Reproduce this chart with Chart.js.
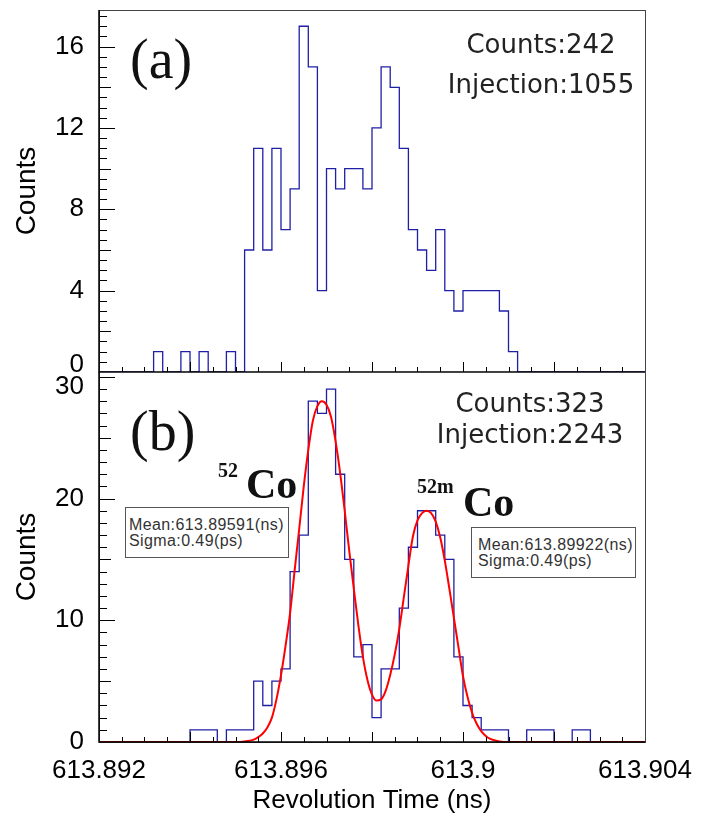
<!DOCTYPE html>
<html>
<head>
<meta charset="utf-8">
<title>Revolution time spectra</title>
<script src="https://cdn.jsdelivr.net/npm/chart.js@4.4.1/dist/chart.umd.min.js"></script>
<style>
  body { margin: 0; background: #fff; }
  #wrap { position: relative; width: 711px; height: 816px; overflow: hidden; }
  canvas { position: absolute; left: 0; }
  #cA { top: 0; }
  #cB { top: 362px; }
  .lbl { position: absolute; white-space: nowrap; line-height: 1; z-index: 2; }
  .panel { font-family: 'Liberation Serif', serif; font-size: 56px; color: #111; }
  .stat { font-family: 'DejaVu Sans', sans-serif; font-size: 26px; color: #222; transform: translateX(-50%); }
  .iso { font-family: 'Liberation Serif', serif; font-weight: bold; color: #111; }
  .fitbox { position: absolute; z-index: 2; box-sizing: border-box; border: 1.5px solid #555; background: #fff;
            font-family: 'Liberation Sans', Arial, sans-serif; font-size: 16px; line-height: 16px; color: #333;
            letter-spacing: 0.4px; white-space: nowrap; }
</style>
</head>
<body>
<div id="wrap">
  <canvas id="cA" width="711" height="380"></canvas>
  <canvas id="cB" width="711" height="454"></canvas>

  <div class="lbl panel" style="left:130px; top:31px;">(a)</div>
  <div class="lbl stat" style="left:541px; top:31px;">Counts:242</div>
  <div class="lbl stat" style="left:541px; top:71px;">Injection:1055</div>

  <div class="lbl panel" style="left:130px; top:403px;">(b)</div>
  <div class="lbl stat" style="left:530px; top:390px;">Counts:323</div>
  <div class="lbl stat" style="left:530px; top:421px;">Injection:2243</div>

  <div class="lbl iso" style="left:218px; top:460px; font-size:20px;">52</div>
  <div class="lbl iso" style="left:246px; top:463px; font-size:42px;">Co</div>
  <div class="lbl iso" style="left:417px; top:476px; font-size:20px;">52m</div>
  <div class="lbl iso" style="left:463px; top:481px; font-size:42px;">Co</div>

  <div class="fitbox" style="left:125px; top:507px; width:164px; height:51px; padding:9px 0 0 3px;">Mean:613.89591(ns)<br>Sigma:0.49(ps)</div>
  <div class="fitbox" style="left:471px; top:527px; width:165px; height:51px; padding:9px 0 0 6px;">Mean:613.89922(ns)<br>Sigma:0.49(ps)</div>
</div>

<script>
// histogram binning: 60 bins of 0.0002 ns starting at 613.892 ns
const binStart = 613.892;
const binWidth = 0.0002;
const xMin = 613.892;
const xMax = 613.904;

// (a) counts per bin, Injection 1055
const countsA = [
  0, 0, 0, 0, 0, 0, 1, 0, 0, 1,
  0, 1, 0, 0, 1, 0, 6, 11, 6, 11,
  7, 9, 17, 15, 4, 10, 9, 10, 10, 9,
  12, 15, 14, 11, 7, 6, 5, 7, 4, 3,
  4, 4, 4, 4, 3, 1, 0, 0, 0, 0,
  0, 0, 0, 0, 0, 0, 0, 0, 0, 0
];

// (b) counts per bin, Injection 2243
const countsB = [
  0, 0, 0, 0, 0, 0, 0, 0, 0, 0,
  1, 1, 1, 0, 1, 1, 1, 5, 3, 5,
  6, 14, 17, 28, 27, 29, 22, 15, 7, 8,
  2, 6, 6, 11, 16, 19, 19, 17, 15, 7,
  3, 2, 1, 1, 1, 0, 0, 1, 1, 1,
  0, 0, 1, 1, 0, 0, 0, 0, 0, 0
];

// double gaussian fit in (b)
const fitTime = [
  613.892, 613.895, 613.8952, 613.8954, 613.8955, 613.8956, 613.8957, 613.8958, 613.8959,
  613.896, 613.8961, 613.8962, 613.8963, 613.8964, 613.8965, 613.8966, 613.8967, 613.8968,
  613.8969, 613.897, 613.8971, 613.8972, 613.8973, 613.8974, 613.8975, 613.8976, 613.8977,
  613.8978, 613.8979, 613.898, 613.8981, 613.8982, 613.8983, 613.8984, 613.8985, 613.8986,
  613.8987, 613.8988, 613.8989, 613.899, 613.8991, 613.8992, 613.8993, 613.8994, 613.8995,
  613.8996, 613.8997, 613.8998, 613.8999, 613.9, 613.9001, 613.9002, 613.9003, 613.9004,
  613.9005, 613.9006, 613.9008, 613.901, 613.904
];
const fitCounts = [
  0, 0, 0.05, 0.2, 0.4, 0.7, 1.2, 2.0, 3.5,
  5.5, 7.9, 10.6, 14.1, 17.5, 21.0, 24.0, 26.4, 27.6,
  28.0, 27.7, 26.7, 24.7, 22.1, 19.0, 15.7, 12.6, 9.6,
  7.0, 5.1, 3.9, 3.4, 3.5, 4.2, 5.5, 7.2, 9.3,
  11.9, 14.5, 16.9, 18.2, 18.8, 19.0, 18.8, 18.1, 16.8,
  14.9, 12.6, 10.2, 7.8, 5.4, 3.7, 2.4, 1.5, 0.9,
  0.5, 0.25, 0.05, 0, 0
];

const xTickValues = [613.892, 613.896, 613.9, 613.904];
const xTickLabels = ['613.892', '613.896', '613.9', '613.904'];
const yTicksA = [0, 4, 8, 12, 16];
const yTicksB = [0, 10, 20, 30];

Chart.defaults.font.family = "'Liberation Sans', Arial, sans-serif";
Chart.defaults.color = '#000';

function histPoints(counts) {
  const pts = counts.map((c, i) => ({ x: binStart + i * binWidth, y: c }));
  pts.push({ x: binStart + counts.length * binWidth, y: 0 });
  return pts;
}

// ROOT style frame with ticks drawn inside the plot area
const frameTicks = {
  id: 'frameTicks',
  afterDatasetsDraw(chart, args, opts) {
    const { ctx, chartArea: a } = chart;
    const sx = chart.scales.x, sy = chart.scales.y;
    ctx.save();
    ctx.strokeStyle = '#000';
    ctx.lineWidth = 1;
    ctx.beginPath();
    for (let n = 0; n * opts.yStep <= sy.max + 1e-9; n++) {
      const py = Math.round(sy.getPixelForValue(n * opts.yStep)) + 0.5;
      const len = n % opts.yLong === 0 ? 16 : (n % opts.yMid === 0 ? 12 : 8);
      ctx.moveTo(a.left, py);
      ctx.lineTo(a.left + len, py);
    }
    for (let n = 0; n <= 24; n++) {
      const px = Math.round(sx.getPixelForValue(xMin + n * 0.0005)) + 0.5;
      const len = n % 4 === 0 ? 10 : 5;
      ctx.moveTo(px, a.bottom);
      ctx.lineTo(px, a.bottom - len);
    }
    ctx.stroke();
    // frame
    ctx.strokeStyle = '#444';
    ctx.lineWidth = 1;
    ctx.strokeRect(a.left + 0.5, a.top + 0.5, a.right - a.left, a.bottom - a.top);
    ctx.strokeStyle = '#000';
    ctx.lineWidth = 1.5;
    ctx.beginPath();
    ctx.moveTo(a.left, a.top);
    ctx.lineTo(a.left, a.bottom);
    ctx.lineTo(a.right, a.bottom);
    ctx.stroke();
    ctx.restore();
  }
};

// keep the plot frame exactly where the layout padding puts it
function noEdgePadding(s) {
  s.paddingTop = 0;
  s.paddingBottom = 0;
  s.paddingLeft = 0;
  s.paddingRight = 0;
}

// edge labels are nudged off the panel border (an empty line shifts them half a line)
function yScale(max, ticks, nudge) {
  return {
    min: 0,
    max: max,
    afterFit: s => { s.width = 99; noEdgePadding(s); },
    afterBuildTicks: s => { s.ticks = ticks.map(v => ({ value: v })); },
    grid: { display: false },
    border: { display: false },
    ticks: {
      font: { size: 26, lineHeight: nudge.lineHeight }, padding: 7, color: '#000',
      callback: v => v === nudge.up ? [String(v), ''] : (v === nudge.down ? ['', String(v)] : String(v))
    },
    title: { display: true, text: 'Counts', font: { size: 28, lineHeight: 1 }, padding: { top: 13 }, color: '#000' }
  };
}

const histStyle = { borderColor: '#1f1fa6', borderWidth: 1.3, stepped: true, pointRadius: 0, fill: false, order: 1 };

new Chart(document.getElementById('cA'), {
  type: 'line',
  data: {
    datasets: [Object.assign({ label: '(a)', data: histPoints(countsA) }, histStyle)]
  },
  options: {
    responsive: false,
    animation: false,
    devicePixelRatio: 1,
    layout: { padding: { top: 10, right: 66, bottom: 8, left: 0 } },
    plugins: { legend: { display: false }, tooltip: { enabled: false },
      frameTicks: { yStep: 0.5, yMid: 4, yLong: 8 } },
    scales: {
      x: { type: 'linear', min: xMin, max: xMax, display: false },
      y: yScale(17.8, yTicksA, { up: 0, down: null, lineHeight: 0.55 })
    }
  },
  plugins: [frameTicks]
});

new Chart(document.getElementById('cB'), {
  type: 'line',
  data: {
    datasets: [
      { label: 'fit', data: fitTime.map((t, i) => ({ x: t, y: fitCounts[i] })),
        borderColor: '#ff0000', borderWidth: 2, pointRadius: 0, cubicInterpolationMode: 'monotone', fill: false, order: 0 },
      Object.assign({ label: '(b)', data: histPoints(countsB) }, histStyle)
    ]
  },
  options: {
    responsive: false,
    animation: false,
    devicePixelRatio: 1,
    layout: { padding: { top: 10, right: 66, bottom: 0, left: 0 } },
    plugins: { legend: { display: false }, tooltip: { enabled: false },
      frameTicks: { yStep: 1, yMid: 5, yLong: 10 } },
    scales: {
      x: {
        type: 'linear', min: xMin, max: xMax,
        afterFit: s => { s.height = 74; noEdgePadding(s); },
        afterBuildTicks: s => { s.ticks = xTickValues.map(v => ({ value: v })); },
        grid: { display: false },
        border: { display: false },
        ticks: { font: { size: 26 }, padding: 5, color: '#000', maxRotation: 0, autoSkip: false,
          callback: (v, i) => xTickLabels[i] },
        title: { display: true, text: 'Revolution Time (ns)', font: { size: 26, lineHeight: 1 }, padding: { bottom: 2 }, color: '#000' }
      },
      y: yScale(30.4, yTicksB, { up: null, down: 30, lineHeight: 0.8 })
    }
  },
  plugins: [frameTicks]
});
</script>
</body>
</html>
